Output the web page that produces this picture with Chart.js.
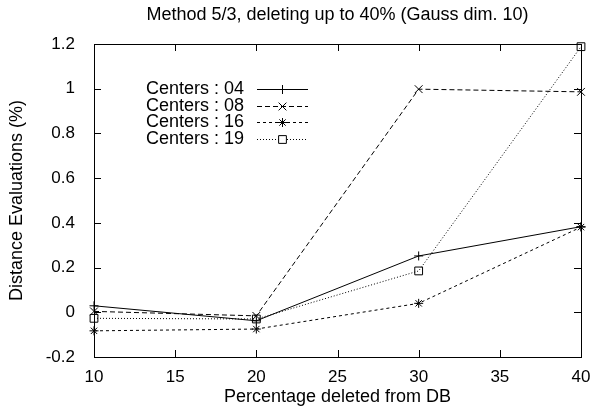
<!DOCTYPE html>
<html>
<head>
<meta charset="utf-8">
<script src="https://cdn.jsdelivr.net/npm/chart.js@4.4.0/dist/chart.umd.min.js"></script>
<style>
  html, body { margin: 0; padding: 0; background: #fff; }
  #wrap { width: 604px; height: 419px; }
</style>
</head>
<body>
<div id="wrap"><canvas id="chart" width="604" height="419"></canvas></div>
<script>
const pctDeleted = [10, 20, 30, 40];
const centers04 = [0.029, -0.038, 0.252, 0.383];
const centers08 = [0.004, -0.016, 0.998, 0.986];
const centers16 = [-0.083, -0.075, 0.040, 0.381];
const centers19 = [-0.027, -0.030, 0.185, 1.188];
const seriesLabels = ['Centers : 04', 'Centers : 08', 'Centers : 16', 'Centers : 19'];

const FONT = "'Liberation Sans', Arial, Helvetica, sans-serif";

function pts(vals) {
    return vals.map((v, i) => ({ x: pctDeleted[i], y: v }));
}

function ds(label, vals, dash, style, radius) {
    return {
        label, data: pts(vals),
        borderColor: '#000', borderWidth: 1, borderDash: dash,
        pointStyle: style, pointRadius: radius, pointHoverRadius: radius,
        pointBorderColor: '#000', pointBackgroundColor: 'rgba(0,0,0,0)', pointBorderWidth: 1,
        fill: false, tension: 0, clip: false
    };
}

// frame, inward ticks on all four sides, legend inside plot
const gnuplotFrame = {
    id: 'gnuplotFrame',
    afterDatasetsDraw(chart) {
        const { ctx, chartArea: a, scales } = chart;
        ctx.save();
        ctx.strokeStyle = '#000';
        ctx.lineWidth = 1;
        ctx.setLineDash([]);
        ctx.strokeRect(Math.round(a.left) + 0.5, Math.round(a.top) + 0.5, Math.round(a.right - a.left), Math.round(a.bottom - a.top));
        const tl = 7;
        ctx.beginPath();
        scales.x.ticks.forEach(t => {
            const px = Math.round(scales.x.getPixelForValue(t.value)) + 0.5;
            ctx.moveTo(px, a.bottom); ctx.lineTo(px, a.bottom - tl);
            ctx.moveTo(px, a.top); ctx.lineTo(px, a.top + tl);
        });
        scales.y.ticks.forEach(t => {
            const py = Math.round(scales.y.getPixelForValue(t.value)) + 0.5;
            ctx.moveTo(a.left, py); ctx.lineTo(a.left + tl, py);
            ctx.moveTo(a.right, py); ctx.lineTo(a.right - tl, py);
        });
        ctx.stroke();

        // legend
        const textRight = a.left + 150, lineL = a.left + 163, lineR = a.left + 214;
        ctx.font = '18px ' + FONT;
        ctx.textAlign = 'right';
        ctx.textBaseline = 'middle';
        chart.data.datasets.forEach((d, i) => {
            const y = a.top + 45 + i * 16.7;
            ctx.fillStyle = '#000';
            ctx.fillText(d.label, textRight, y);
            ctx.beginPath();
            ctx.setLineDash(d.borderDash);
            ctx.moveTo(lineL, Math.round(y) + 0.5);
            ctx.lineTo(lineR, Math.round(y) + 0.5);
            ctx.stroke();
            ctx.setLineDash([]);
            ctx.fillStyle = '#fff';
            Chart.helpers.drawPoint(ctx, { pointStyle: d.pointStyle, radius: d.pointRadius, borderWidth: 1 }, (lineL + lineR) / 2, Math.round(y) + 0.5);
        });
        ctx.restore();
    }
};

new Chart(document.getElementById('chart'), {
    type: 'line',
    data: {
        datasets: [
            ds(seriesLabels[0], centers04, [], 'cross', 4.5),
            ds(seriesLabels[1], centers08, [5, 3], 'crossRot', 5.5),
            ds(seriesLabels[2], centers16, [3, 3], 'star', 4.5),
            ds(seriesLabels[3], centers19, [1, 2], 'rect', 5.5)
        ]
    },
    options: {
        responsive: false,
        animation: false,
        devicePixelRatio: 1,
        layout: { padding: { left: 0, right: 23, top: 0, bottom: 0 } },
        plugins: {
            legend: { display: false },
            tooltip: { enabled: false },
            title: {
                display: true,
                fullSize: false,
                text: 'Method 5/3, deleting up to 40% (Gauss dim. 10)',
                color: '#000',
                font: { family: FONT, size: 18, weight: 'normal' },
                padding: { top: 4.2, bottom: 18.2 }
            }
        },
        scales: {
            x: {
                type: 'linear', min: 10, max: 40,
                grid: { display: false }, border: { display: false },
                ticks: { stepSize: 5, padding: 2, color: '#000', font: { family: FONT, size: 17 } },
                title: { display: true, text: 'Percentage deleted from DB', color: '#000', font: { family: FONT, size: 18 }, padding: { top: 0, bottom: 11.2 } },
                afterFit(s) { s.height = 62; }
            },
            y: {
                type: 'linear', min: -0.2, max: 1.2,
                grid: { display: false }, border: { display: false },
                ticks: {
                    stepSize: 0.2, padding: 11, color: '#000', font: { family: FONT, size: 17 },
                    callback: v => String(Number(v.toFixed(1)))
                },
                title: { display: true, text: 'Distance Evaluations (%)', color: '#000', font: { family: FONT, size: 18 }, padding: { top: 6.2, bottom: 0 } },
                afterFit(s) { s.width = 94; }
            }
        }
    },
    plugins: [gnuplotFrame]
});
</script>
</body>
</html>
